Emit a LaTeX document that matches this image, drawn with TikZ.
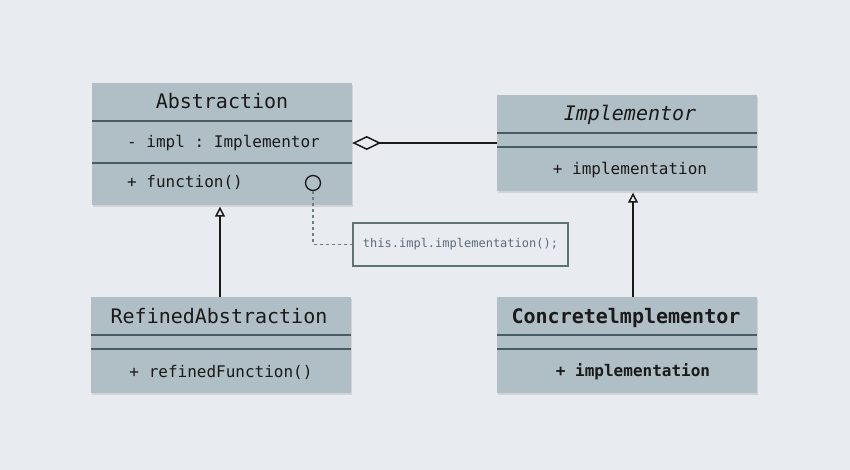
\documentclass[tikz,border=0pt]{standalone}
\usepackage{fontspec}
\setmonofont{DejaVu Sans Mono}
\usetikzlibrary{arrows.meta,shadows,calc}
\definecolor{bg}{HTML}{E8EBF0}
\definecolor{boxfill}{HTML}{B0BEC5}
\definecolor{sep}{HTML}{485C66}
\definecolor{notec}{HTML}{5F7373}
\definecolor{notetext}{HTML}{5A6B78}
\definecolor{dashc}{HTML}{707C86}
\definecolor{ink}{HTML}{1A1A1A}
\tikzset{
  classbox/.style={fill=boxfill, draw=none, inner sep=0pt,
    drop shadow={opacity=0.22, shadow xshift=1pt, shadow yshift=-2pt}},
  sepline/.style={draw=sep, line width=1.7pt},
  titletext/.style={font=\ttfamily\fontsize{20}{24}\selectfont, anchor=base, inner sep=0pt, text=ink},
  membertext/.style={font=\ttfamily\fontsize{16}{19}\selectfont, anchor=base, inner sep=0pt, text=ink},
  notebox/.style={draw=notec, line width=1.4pt, fill=bg, minimum width=215pt, minimum height=43pt,
    inner sep=0pt, font=\ttfamily\fontsize{12}{14}\selectfont, text=notetext},
  gen/.style={draw=ink, line width=1.5pt, shorten >=1.5pt, -{Triangle[open, length=10pt, width=10pt]}},
  aggr/.style={draw=ink, line width=1.5pt, {Diamond[open, length=29pt, width=14pt]}-},
  notelink/.style={draw=dashc, line width=1.1pt, dash pattern=on 3pt off 3pt},
  portc/.style={circle, draw=ink, fill=boxfill, line width=1.3pt, minimum size=15pt, inner sep=0pt}
}
\begin{document}
\begin{tikzpicture}[x=1pt, y=-1pt]
\useasboundingbox[fill=bg] (0,0) rectangle (850,470);

% Abstraction
\node (abs) [classbox, minimum width=260pt, minimum height=122pt] at (222,144) {};
\draw[sepline] ($(abs.north west)+(0,38)$) -- ($(abs.north east)+(0,38)$);
\draw[sepline] ($(abs.north west)+(0,80)$) -- ($(abs.north east)+(0,80)$);
\node (absT) [titletext] at (222,109) {Abstraction};
\node (absA) [membertext, anchor=base west] at (127,148) {- impl : Implementor};
\node (absM) [membertext, anchor=base west] at (127,188) {+ function()};
\node (port) [portc] at (313,183) {};

% Implementor
\node (impl) [classbox, minimum width=260pt, minimum height=96pt] at (627,143) {};
\draw[sepline] ($(impl.north west)+(0,38)$) -- ($(impl.north east)+(0,38)$);
\draw[sepline] ($(impl.north west)+(0,52)$) -- ($(impl.north east)+(0,52)$);
\node (implT) [titletext, font=\ttfamily\itshape\fontsize{20}{24}\selectfont] at (630,121) {Implementor};
\node (implM) [membertext] at (630,175) {+ implementation};

% RefinedAbstraction
\node (ref) [classbox, minimum width=260pt, minimum height=96pt] at (221,345) {};
\draw[sepline] ($(ref.north west)+(0,38)$) -- ($(ref.north east)+(0,38)$);
\draw[sepline] ($(ref.north west)+(0,52)$) -- ($(ref.north east)+(0,52)$);
\node (refT) [titletext] at (219,323) {RefinedAbstraction};
\node (refM) [membertext] at (221,377) {+ refinedFunction()};

% ConcreteImplementor
\node (conc) [classbox, minimum width=260pt, minimum height=96pt] at (627,345) {};
\draw[sepline] ($(conc.north west)+(0,38)$) -- ($(conc.north east)+(0,38)$);
\draw[sepline] ($(conc.north west)+(0,52)$) -- ($(conc.north east)+(0,52)$);
\node (concT) [titletext, font=\ttfamily\bfseries\fontsize{20}{24}\selectfont] at (626,323) {Concretelmplementor};
\node (concM) [membertext, font=\ttfamily\bfseries\fontsize{16}{19}\selectfont] at (633,376) {+ implementation};

% Note
\node (note) [notebox] at (460.5,244.5) {this.impl.implementation();};

% Connectors
\draw[aggr] (abs.east |- impl.west) -- (impl.west);
\draw[gen] ([xshift=-2pt]ref.north -| abs.south) -- ([xshift=-2pt]abs.south);
\draw[gen] ([xshift=6pt]conc.north) -- ([xshift=6pt]impl.south);
\draw[notelink] (port.south) |- (note.west);
\end{tikzpicture}
\end{document}
